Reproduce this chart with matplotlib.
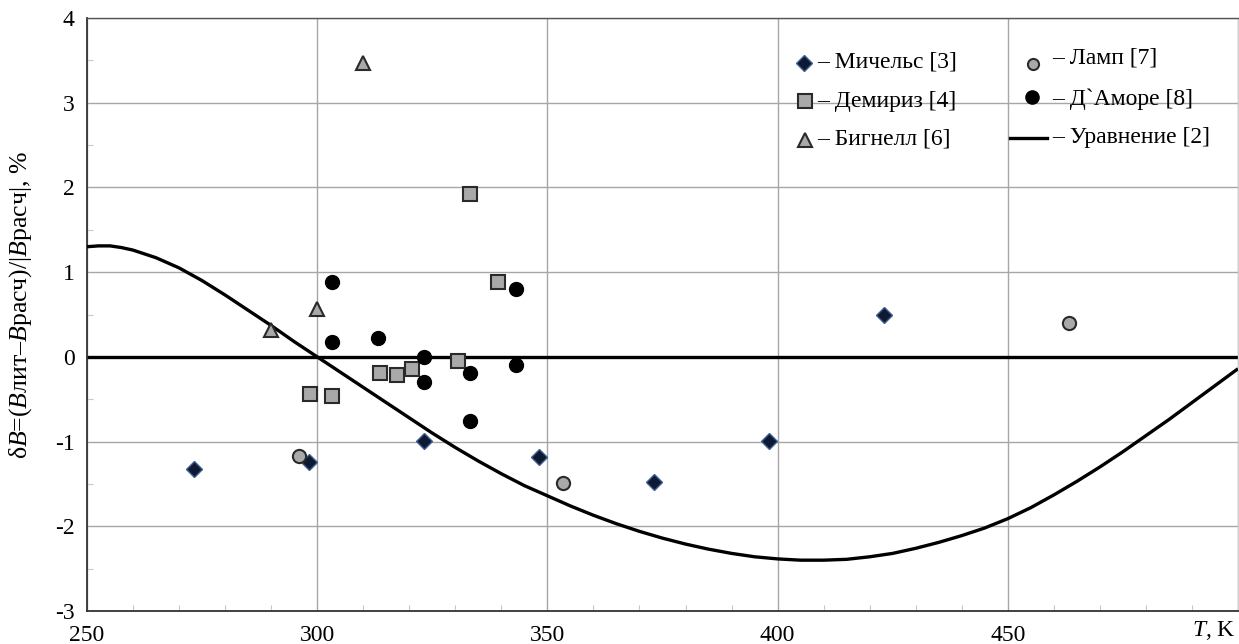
import numpy as np
import matplotlib
matplotlib.use("Agg")
import matplotlib.pyplot as plt
import matplotlib.ticker as mticker

plt.rcParams['font.family'] = ['Liberation Serif', 'DejaVu Serif']
plt.rcParams['mathtext.fontset'] = 'custom'
plt.rcParams['mathtext.rm'] = 'Liberation Serif'
plt.rcParams['mathtext.it'] = 'Liberation Serif:italic'

# Данные
mich_T = [273.15, 298.15, 323.15, 348.15, 373.15, 398.15, 423.15]
mich_d = [-1.32, -1.24, -0.99, -1.18, -1.48, -0.99, 0.50]

dem_T = [298.4, 303.2, 313.6, 317.3, 320.6, 330.6, 333.2, 339.3]
dem_d = [-0.44, -0.46, -0.19, -0.22, -0.14, -0.05, 1.92, 0.885]

big_T = [290.0, 300.0, 310.0]
big_d = [0.32, 0.56, 3.47]

lamp_T = [296.0, 353.4, 463.3]
lamp_d = [-1.17, -1.49, 0.40]

amore_T = [303.2, 303.2, 313.2, 323.2, 323.2, 333.2, 333.2, 343.2, 343.2]
amore_d = [0.885, 0.18, 0.22, 0.0, -0.30, -0.19, -0.76, 0.80, -0.10]

eq_T = [250, 252.5, 255, 257.5, 260, 265, 270, 275, 280, 285, 290, 295, 300,
        305, 310, 315, 320, 325, 330, 335, 340, 345, 350, 355, 360, 365, 370,
        375, 380, 385, 390, 395, 400, 405, 410, 415, 420, 425, 430, 435, 440,
        445, 450, 455, 460, 465, 470, 475, 480, 485, 490, 495, 500]
eq_d = [1.30, 1.31, 1.31, 1.29, 1.26, 1.17, 1.05, 0.90, 0.73, 0.55, 0.37,
        0.18, 0.0, -0.18, -0.36, -0.54, -0.72, -0.90, -1.07, -1.23, -1.38,
        -1.52, -1.64, -1.76, -1.87, -1.97, -2.06, -2.14, -2.21, -2.27,
        -2.32, -2.36, -2.385, -2.40, -2.40, -2.39, -2.36, -2.32, -2.26,
        -2.19, -2.11, -2.02, -1.91, -1.78, -1.63, -1.47, -1.30, -1.12,
        -0.93, -0.74, -0.54, -0.34, -0.14]

COLOR_GRID = "#a6a6a6"
GRIS = "#a9a9a9"

fig = plt.figure(figsize=(12.39, 6.44), dpi=100)
ax = fig.add_axes([87/1239, 33/644, 1151/1239, 593/644])

ax.set_xlim(250, 500)
ax.set_ylim(-3, 4)

ax.xaxis.set_major_locator(mticker.MultipleLocator(50))
ax.xaxis.set_minor_locator(mticker.MultipleLocator(10))
ax.yaxis.set_major_locator(mticker.MultipleLocator(1))
ax.yaxis.set_minor_locator(mticker.MultipleLocator(0.5))
ax.grid(True, which="major", color=COLOR_GRID, linewidth=1.0, zorder=0)
ax.tick_params(which="major", length=0, labelsize=17, pad=9)
ax.tick_params(which="minor", direction="in", length=4, color="#c8c8c8", width=0.8)
ax.tick_params(axis="x", which="major", pad=10)
ax.yaxis.set_major_formatter(mticker.FuncFormatter(lambda v, _: f"{v:.0f}"))
# метка 500 не показывается
ax.xaxis.set_major_formatter(mticker.FuncFormatter(lambda v, _: "" if v >= 500 else f"{v:.0f}"))

for s in ["left", "bottom"]:
    ax.spines[s].set_color("#333333")
    ax.spines[s].set_linewidth(1.3)
ax.spines["top"].set_color("#555555")
ax.spines["top"].set_linewidth(1.0)
ax.spines["right"].set_color("#d0d0d0")
ax.spines["right"].set_linewidth(1.0)

ax.axhline(0, color="black", linewidth=2.4, zorder=2)
ax.plot(eq_T, eq_d, color="black", linewidth=2.4, zorder=3, solid_capstyle="butt")

ax.plot(mich_T, mich_d, "D", ms=8.5, mfc="#0e1a33", mec="#3f5f8f", mew=1.0, ls="none", zorder=5)
ax.plot(dem_T, dem_d, "s", ms=10, mfc=GRIS, mec="#2a2a2a", mew=1.5, ls="none", zorder=5)
ax.plot(big_T, big_d, "^", ms=10, mfc=GRIS, mec="#2a2a2a", mew=1.5, ls="none", zorder=5)
ax.plot(lamp_T, lamp_d, "o", ms=9.5, mfc=GRIS, mec="#2a2a2a", mew=1.5, ls="none", zorder=5)
ax.plot(amore_T, amore_d, "o", ms=10, mfc="black", mec="black", ls="none", zorder=5)

ax.set_ylabel("δ$B$=($B$лит–$B$расч)/|$B$расч|, %", fontsize=18.5)
ax.yaxis.set_label_coords(-0.046, 0.516)
fig.text(1236/1239, 2/644, "$T$, K", fontsize=17, ha="right", va="bottom")

# Легенда (вручную, как в оригинале)
def fx(px):
    return px / 1239
def fy(py):
    return 1 - py / 644

leg = [
    (804, 63, "D", 8.5, "#0e1a33", "#3f5f8f", 1.0, 817, 62, "– Мичельс [3]"),
    (805, 101, "s", 10, GRIS, "#2a2a2a", 1.5, 817, 101, "– Демириз [4]"),
    (805, 140, "^", 10, GRIS, "#2a2a2a", 1.5, 817, 139, "– Бигнелл [6]"),
    (1033, 64, "o", 8, GRIS, "#2a2a2a", 1.5, 1052, 58, "– Ламп [7]"),
    (1032, 97, "o", 9.5, "black", "black", 1.0, 1052, 99, "– Д`Аморе [8]"),
]
for mx, my, m, ms, fc, ec, ew, tx, ty, lab in leg:
    fig.add_artist(plt.Line2D([fx(mx)], [fy(my)], marker=m, ms=ms, mfc=fc, mec=ec, mew=ew,
                              ls="none", transform=fig.transFigure))
    fig.text(fx(tx), fy(ty), lab, fontsize=17, va="center", ha="left")
fig.add_artist(plt.Line2D([fx(1010), fx(1047)], [fy(138), fy(138)], color="black", lw=2.4,
                          transform=fig.transFigure))
fig.text(fx(1052), fy(137), "– Уравнение [2]", fontsize=17, va="center", ha="left")

fig.savefig("out.png", dpi=100)
